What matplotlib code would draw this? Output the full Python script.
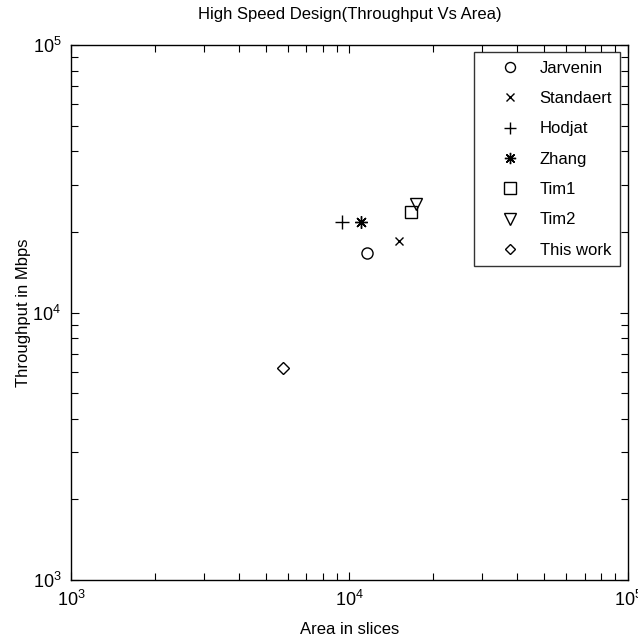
import math
import matplotlib
matplotlib.use("Agg")
import matplotlib.pyplot as plt
from matplotlib.ticker import LogLocator, FuncFormatter, NullFormatter

plt.rcParams['font.family'] = ['Liberation Sans', 'DejaVu Sans']
plt.rcParams['mathtext.fontset'] = 'custom'
plt.rcParams['mathtext.rm'] = 'Liberation Sans'
plt.rcParams['mathtext.default'] = 'regular'

labels = ["Jarvenin", "Standaert", "Hodjat", "Zhang", "Tim1", "Tim2", "This work"]
area = [11600, 15000, 9400, 11000, 16600, 17400, 5750]
throughput = [16700, 18500, 21800, 21800, 23700, 25400, 6200]
markers = ["o", "x", "+", (8, 2, 0), "s", "v", "D"]
sizes = [8, 6, 10, 9, 9, 9, 6]

fig = plt.figure(figsize=(6.38, 6.39), dpi=100)
ax = fig.add_axes([0.1113, 0.0923, 0.8730, 0.8373])

for lab, xv, yv, m, s in zip(labels, area, throughput, markers, sizes):
    kw = dict(marker=m, linestyle="none", color="black", markersize=s,
              markeredgewidth=1.0, label=lab)
    if m in ("o", "s", "v", "D"):
        kw["markerfacecolor"] = "none"
    ax.plot([xv], [yv], **kw)

ax.set_xscale("log")
ax.set_yscale("log")
ax.set_xlim(1e3, 1e5)
ax.set_ylim(1e3, 1e5)

fmt = FuncFormatter(lambda v, p: r"$10^{%d}$" % round(math.log10(v)))
ax.xaxis.set_major_formatter(fmt)
ax.yaxis.set_major_formatter(fmt)
ax.xaxis.set_minor_formatter(NullFormatter())
ax.yaxis.set_minor_formatter(NullFormatter())
ax.xaxis.set_major_locator(LogLocator(base=10, numticks=10))
ax.yaxis.set_major_locator(LogLocator(base=10, numticks=10))
ax.tick_params(which="both", direction="in", top=True, right=True, width=0.8, labelsize=13)
ax.tick_params(which="major", length=6, pad=7)
ax.tick_params(which="minor", length=5)
for sp in ax.spines.values():
    sp.set_linewidth(1.0)

ax.set_title("High Speed Design(Throughput Vs Area)", fontsize=12, pad=19)
ax.set_xlabel("Area in slices", fontsize=12, labelpad=9)
ax.set_ylabel("Throughput in Mbps", fontsize=12, labelpad=1)

leg = ax.legend(loc="upper right", fontsize=12, frameon=True, fancybox=False,
                edgecolor="black", borderpad=0.5, labelspacing=0.92,
                handlelength=3.3, handletextpad=0.15, borderaxespad=0.45,
                markerscale=0.9)
leg.get_frame().set_linewidth(1.0)

fig.savefig("out.png", dpi=100)
